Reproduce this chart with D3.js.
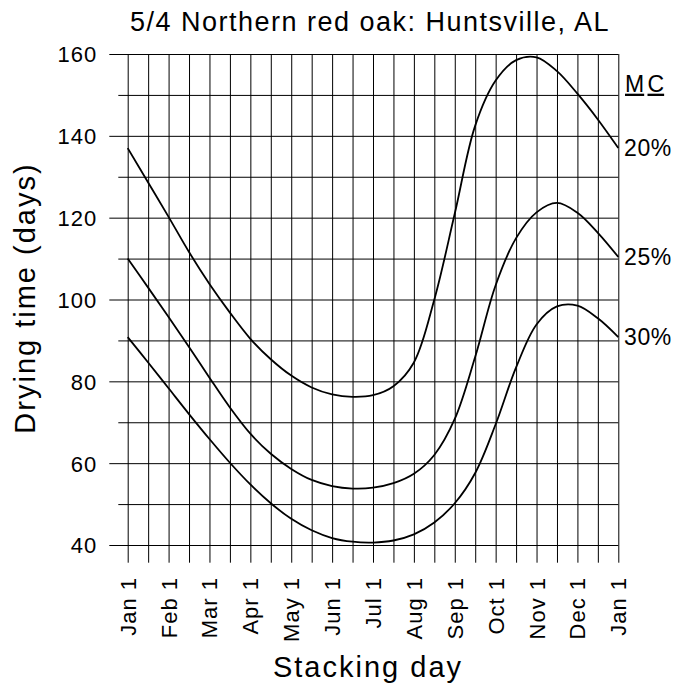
<!DOCTYPE html>
<html>
<head>
<meta charset="utf-8">
<script src="https://cdn.jsdelivr.net/npm/d3@7"></script>
<style>
  html, body { margin: 0; padding: 0; background: #fff; }
  svg { display: block; font-family: "Liberation Sans", Arial, Helvetica, sans-serif; }
</style>
</head>
<body>
<svg id="chart" width="689" height="688"></svg>
<script>
// ---- data ----
const title = "5/4 Northern red oak: Huntsville, AL";
const yTitle = "Drying time (days)";
const xTitle = "Stacking day";
const monthLabels = ["Jan 1","Feb 1","Mar 1","Apr 1","May 1","Jun 1","Jul 1","Aug 1","Sep 1","Oct 1","Nov 1","Dec 1","Jan 1"];
// stacking day in half-month steps: 0 = Jan 1, 1 = Jan 15, 2 = Feb 1, ... 24 = Jan 1
const halfMonths = d3.range(0, 25);
const yMajorTicks = [40, 60, 80, 100, 120, 140, 160];
const yMinorTicks = [50, 70, 90, 110, 130, 150];
const seriesNames = ["20%", "25%", "30%"];
const mc20 = [137, 128.6, 120.2, 111.6, 103.8, 96.8, 90.4, 85.4, 81.4, 78.5, 76.8, 76.2, 76.6, 78.8, 84.6, 100, 121, 142.5, 153.5, 158.5, 159.2, 155.8, 150.3, 144, 137];
const mc25 = [110, 102.9, 95.7, 88.4, 80.9, 73.6, 67.2, 62.3, 58.6, 55.9, 54.4, 53.8, 54, 55.1, 57.4, 62, 70.8, 86, 103.5, 115, 121.3, 123.6, 121.2, 116.3, 110.4];
const mc30 = [90.8, 84.6, 78.3, 72, 65.9, 60.1, 54.8, 50.2, 46.4, 43.6, 41.7, 40.8, 40.6, 41.1, 42.6, 45.5, 50.2, 57.6, 69.5, 83.4, 93.9, 98.3, 98.5, 95.4, 90.8];
const seriesValues = [mc20, mc25, mc30];

// ---- layout ----
const svg = d3.select("#chart");
const plotLeft = 127.7, plotRight = 618.3, plotTop = 54, plotBottom = 545;
const x = d3.scaleLinear().domain([0, 24]).range([plotLeft, plotRight]);
const y = d3.scaleLinear().domain([40, 160]).range([plotBottom, plotTop]);

const tickBottom = 562.7;

// vertical grid lines (all half months), extending below the plot
const xGrid = svg.append("g")
  .attr("transform", `translate(0,${tickBottom})`)
  .call(d3.axisBottom(x).tickValues(halfMonths).tickSizeInner(-(tickBottom - plotTop)).tickSizeOuter(0).tickFormat(""));
xGrid.select(".domain").remove();
xGrid.selectAll(".tick line").attr("stroke", "#000").attr("stroke-width", 1);

// major horizontal grid + labels
const yMajX = 109.3;
const yMaj = svg.append("g")
  .attr("transform", `translate(${yMajX},0)`)
  .call(d3.axisLeft(y).tickValues(yMajorTicks).tickSizeInner(-(plotRight - yMajX)).tickSizeOuter(0).tickPadding(12));
yMaj.select(".domain").remove();
yMaj.selectAll(".tick line").attr("stroke", "#000").attr("stroke-width", 1);
yMaj.selectAll(".tick text")
  .attr("font-size", 22).attr("letter-spacing", 1).attr("fill", "#000")
  .attr("font-family", "'Liberation Sans', Arial, sans-serif")
  .attr("dy", "0.36em");

// minor horizontal grid
const yMinX = 118.3;
const yMin = svg.append("g")
  .attr("transform", `translate(${yMinX},0)`)
  .call(d3.axisLeft(y).tickValues(yMinorTicks).tickSizeInner(-(plotRight - yMinX)).tickSizeOuter(0).tickFormat(""));
yMin.select(".domain").remove();
yMin.selectAll(".tick line").attr("stroke", "#000").attr("stroke-width", 1);

// x tick labels (rotated)
svg.append("g").selectAll("text")
  .data(monthLabels)
  .join("text")
  .attr("transform", (d, i) => `translate(${x(i * 2) + 8},577) rotate(-90)`)
  .attr("text-anchor", "end")
  .attr("font-size", 22)
  .attr("letter-spacing", 1)
  .text(d => d);

// curves
const line = d3.line()
  .x((d, i) => x(halfMonths[i]))
  .y(d => y(d))
  .curve(d3.curveCatmullRom.alpha(0.5));
svg.append("g").selectAll("path")
  .data(seriesValues)
  .join("path")
  .attr("d", d => line(d))
  .attr("fill", "none")
  .attr("stroke", "#000")
  .attr("stroke-width", 1.8);

// series labels on the right
svg.append("g").selectAll("text")
  .data(seriesNames)
  .join("text")
  .attr("x", 624)
  .attr("y", (d, i) => y(seriesValues[i][seriesValues[i].length - 1]))
  .attr("dy", "0.36em")
  .attr("font-size", 23)
  .attr("letter-spacing", 0.6)
  .text(d => d);

// "MC" header, each letter underlined
const mcLetters = ["M", "C"];
svg.append("g").selectAll("text")
  .data(mcLetters)
  .join("text")
  .attr("x", (d, i) => i === 0 ? 625 : 647.5)
  .attr("y", 91.7)
  .attr("font-size", 23)
  .style("text-decoration", "underline")
  .text(d => d);

// titles
svg.append("text")
  .attr("x", 370).attr("y", 31)
  .attr("text-anchor", "middle")
  .attr("font-size", 27)
  .attr("letter-spacing", 1.5)
  .text(title);

svg.append("text")
  .attr("transform", "translate(35,298) rotate(-90)")
  .attr("text-anchor", "middle")
  .attr("font-size", 29)
  .attr("letter-spacing", 2)
  .text(yTitle);

svg.append("text")
  .attr("x", 368).attr("y", 677)
  .attr("text-anchor", "middle")
  .attr("font-size", 29)
  .attr("letter-spacing", 2)
  .text(xTitle);
</script>
</body>
</html>
